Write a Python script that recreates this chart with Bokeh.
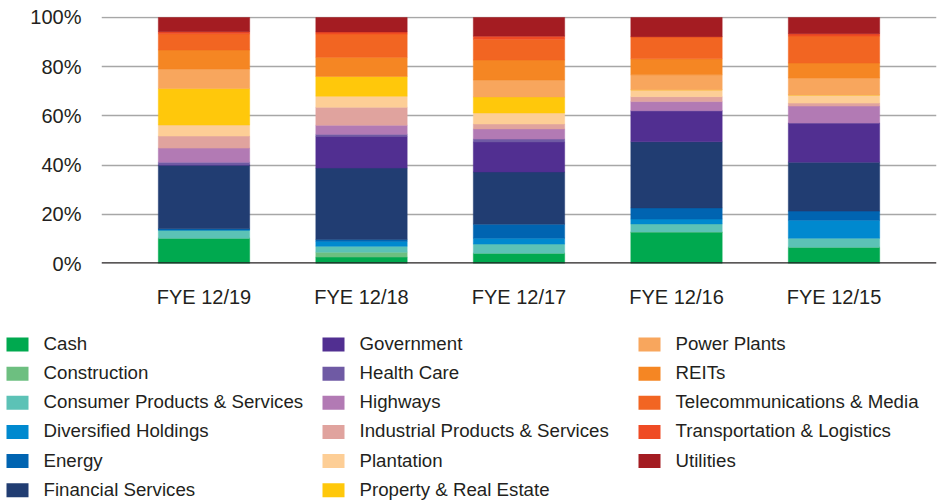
from bokeh.plotting import figure
from bokeh.layouts import column
from bokeh.models import (FactorRange, Range1d, FixedTicker, Span, ColumnDataSource)
from bokeh.core.properties import value
from bokeh.embed import file_html
from bokeh.resources import INLINE

# ---------------- data ----------------
years = ["FYE 12/19", "FYE 12/18", "FYE 12/17", "FYE 12/16", "FYE 12/15"]

sectors = ["Cash", "Construction", "Consumer Products & Services",
           "Diversified Holdings", "Energy", "Financial Services",
           "Government", "Health Care", "Highways",
           "Industrial Products & Services", "Plantation",
           "Property & Real Estate", "Power Plants", "REITs",
           "Telecommunications & Media", "Transportation & Logistics",
           "Utilities"]

colors = ["#00A94F", "#6DBF80", "#5CC2B6", "#0089CF", "#0064B1", "#213D72",
          "#512F91", "#6F5AA4", "#B27AB4", "#E0A39E", "#FDCE96", "#FFC80B",
          "#F8A65D", "#F58623", "#F26522", "#EF4B24", "#A41C22"]

# share of portfolio (%) per sector, in the order of `sectors`
fye19 = [10.3, 0.0, 3.3, 0.0, 0.5, 25.9, 0.0, 1.2, 5.7, 4.9, 4.5, 14.8, 8.0, 7.7, 6.6, 0.8, 5.8]
fye18 = [2.6, 2.0, 2.4, 2.0, 0.8, 29.0, 12.9, 0.8, 3.7, 7.3, 4.5, 8.1, 0.0, 7.7, 9.5, 0.8, 5.9]
fye17 = [4.2, 0.0, 3.7, 2.4, 5.7, 21.2, 12.2, 1.2, 4.1, 2.0, 4.5, 6.5, 6.9, 8.1, 8.5, 1.2, 7.6]
fye16 = [12.8, 0.0, 3.3, 2.0, 4.5, 26.9, 12.6, 0.0, 3.7, 2.0, 2.8, 0.0, 6.1, 6.5, 9.0, 0.0, 7.8]
fye15 = [6.6, 0.0, 3.7, 7.3, 3.7, 19.9, 15.9, 0.0, 6.9, 1.2, 3.3, 0.0, 6.9, 6.1, 11.0, 0.9, 6.6]

y_ticks = [0, 20, 40, 60, 80, 100]
y_tick_labels = ["0%", "20%", "40%", "60%", "80%", "100%"]

# ---------------- chart ----------------
per_year = [fye19, fye18, fye17, fye16, fye15]
data = {"year": years}
keys = []
for i, s in enumerate(sectors):
    k = "s%d" % i
    keys.append(k)
    data[k] = [yr[i] for yr in per_year]
source = ColumnDataSource(data)

TEXT = "#231F20"
FONT = "Liberation Sans"
W = 940
CHART_H = 320
LEG_H = 181

p = figure(width=W, height=CHART_H, output_backend="svg", toolbar_location=None,
           x_range=FactorRange(*years, range_padding=0.06031,
                               range_padding_units="percent"),
           y_range=Range1d(0, 100.4),
           min_border_left=101, min_border_right=4, min_border_top=16,
           min_border_bottom=57)
p.frame_align = False
p.outline_line_color = None
p.background_fill_color = "white"
p.border_fill_color = "white"

p.vbar_stack(keys, x="year", width=0.58, color=colors, line_width=0.5,
             source=source)

p.xgrid.grid_line_color = None
p.ygrid.ticker = FixedTicker(ticks=y_ticks)
p.ygrid.grid_line_color = "#A7A7A7"
p.ygrid.grid_line_width = 1.3

p.add_layout(Span(location=0, dimension="width", line_color=TEXT, line_width=2.5))

p.yaxis.ticker = FixedTicker(ticks=y_ticks)
p.yaxis.major_label_overrides = {t: l for t, l in zip(y_ticks, y_tick_labels)}
for ax in (p.xaxis[0], p.yaxis[0]):
    ax.axis_line_color = None
    ax.major_tick_line_color = None
    ax.minor_tick_line_color = None
    ax.major_tick_out = 0
    ax.major_tick_in = 0
    ax.major_label_text_font = FONT
    ax.major_label_text_font_size = "20px"
    ax.major_label_text_color = TEXT
p.yaxis.major_label_standoff = 20
p.xaxis.major_label_standoff = 22

# ---------------- legend (3 columns x 6 rows) ----------------
ROWS = 6
COL_PITCH = 316
ROW_PITCH = 29.14
col_idx = [i // ROWS for i in range(len(sectors))]
row_idx = [i % ROWS for i in range(len(sectors))]
leg_src = ColumnDataSource(dict(
    label=sectors,
    color=colors,
    sx=[6 + 11 + COL_PITCH * c for c in col_idx],
    tx=[43 + COL_PITCH * c for c in col_idx],
    sy=[24 + ROW_PITCH * r for r in row_idx],
    ty=[23 + ROW_PITCH * r for r in row_idx],
))

lg = figure(width=W, height=LEG_H, output_backend="svg", toolbar_location=None,
            x_range=Range1d(0, W), y_range=Range1d(LEG_H, 0),
            x_axis_type=None, y_axis_type=None,
            min_border_left=0, min_border_right=0, min_border_top=0,
            min_border_bottom=0)
lg.frame_align = False
lg.outline_line_color = None
lg.grid.visible = False
lg.background_fill_color = "white"
lg.border_fill_color = "white"
lg.rect(x="sx", y="sy", width=22, height=14, fill_color="color",
        line_color=None, source=leg_src)
lg.text(x="tx", y="ty", text="label", text_font=value(FONT),
        text_font_size="18.7px", text_color=TEXT, text_baseline="middle",
        text_align="left", source=leg_src)

layout = column(p, lg, spacing=0)
open("out.html", "w").write(file_html(layout, INLINE))
